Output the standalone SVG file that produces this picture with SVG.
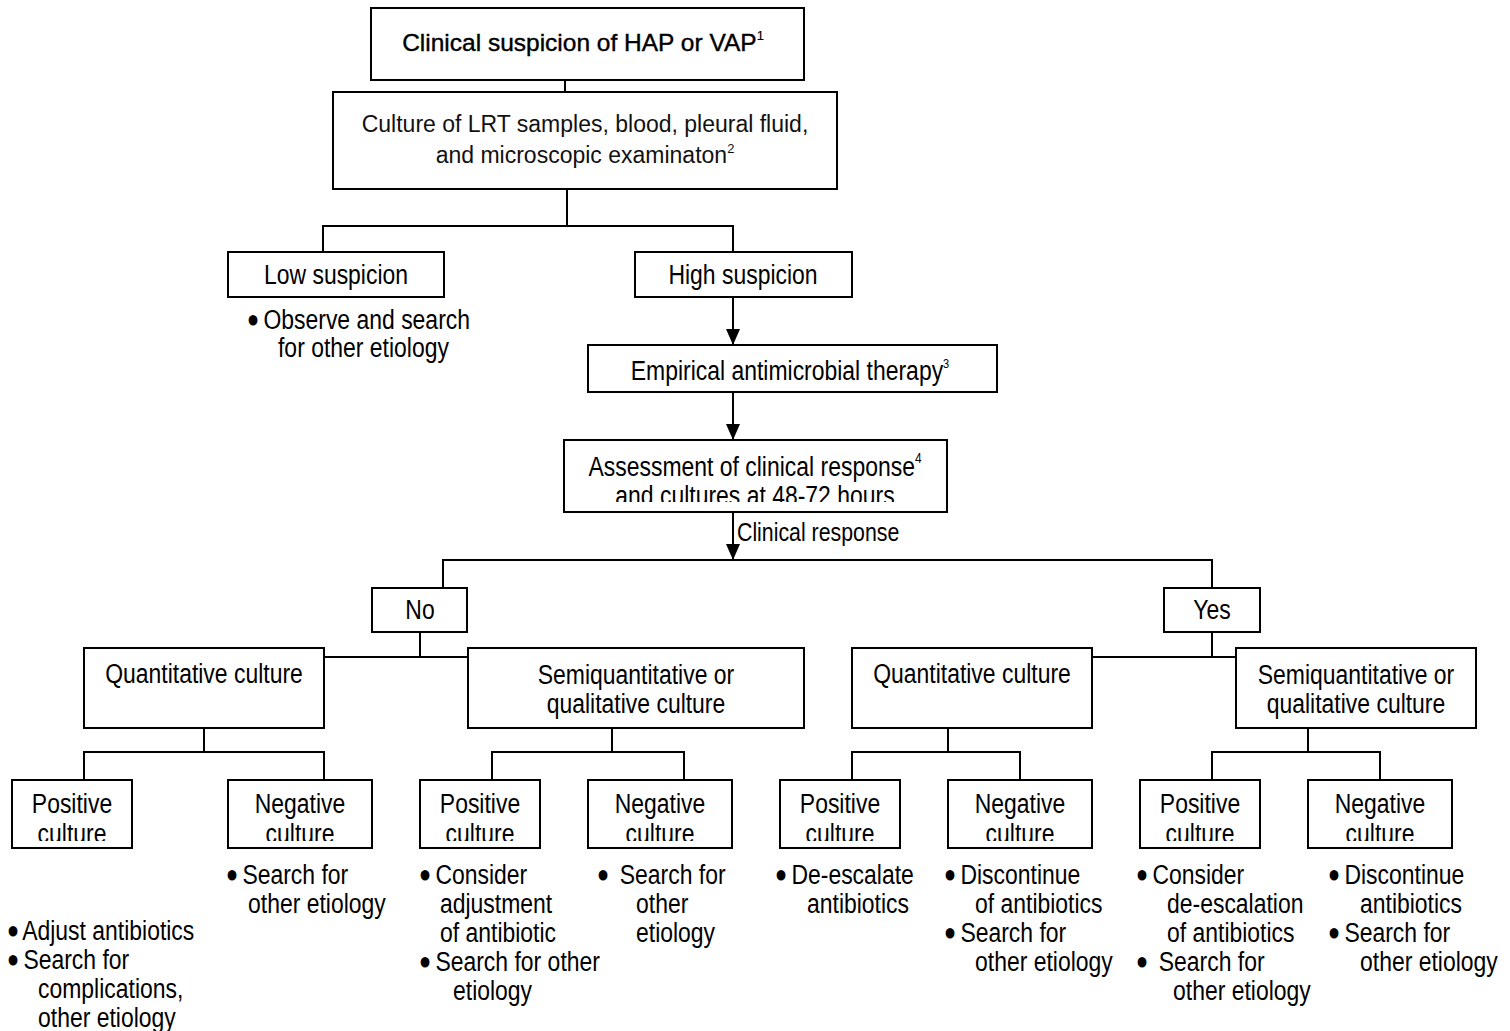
<svg xmlns="http://www.w3.org/2000/svg" width="1510" height="1031" viewBox="0 0 1510 1031">
<style>
.box{fill:#fff;stroke:#000;stroke-width:2}
.t{font-family:'Liberation Sans',Arial,sans-serif;font-size:27px;fill:#000}
.c{text-anchor:middle}
.w{font-family:'Liberation Sans',Arial,sans-serif;font-size:23px;fill:#111}
.sup{font-size:13px}
.b{stroke:#000;stroke-width:3;stroke-linejoin:round}
.conn{stroke:#000;stroke-width:2;fill:none}
</style>
<defs>
<marker id="ah" markerUnits="userSpaceOnUse" markerWidth="16" markerHeight="18" refX="16" refY="8" orient="auto" viewBox="0 0 16 16">
<path d="M0,1 L16,8 L0,15 Z" fill="#000"/>
</marker>
<clipPath id="clipA"><rect x="564" y="440" width="384" height="62"/></clipPath>
<clipPath id="clipB"><rect x="0" y="780" width="1510" height="61"/></clipPath>
</defs>

<g id="connectors">
<line class="conn" x1="565" y1="80" x2="565" y2="92"/>
<polyline class="conn" points="567,189 567,226"/>
<polyline class="conn" points="323,252 323,226 733,226 733,252"/>
<line class="conn" x1="733" y1="297" x2="733" y2="345" marker-end="url(#ah)"/>
<line class="conn" x1="733" y1="392" x2="733" y2="440" marker-end="url(#ah)"/>
<line class="conn" x1="733" y1="512" x2="733" y2="560" marker-end="url(#ah)"/>
<polyline class="conn" points="443,588 443,560 1212,560 1212,588"/>
<line class="conn" x1="420" y1="632" x2="420" y2="657"/>
<line class="conn" x1="324" y1="657" x2="468" y2="657"/>
<line class="conn" x1="1212" y1="632" x2="1212" y2="657"/>
<line class="conn" x1="1092" y1="657" x2="1236" y2="657"/>
<line class="conn" x1="204" y1="728" x2="204" y2="752"/>
<polyline class="conn" points="84,780 84,752 324,752 324,780"/>
<line class="conn" x1="612" y1="728" x2="612" y2="752"/>
<polyline class="conn" points="492,780 492,752 684,752 684,780"/>
<line class="conn" x1="948" y1="728" x2="948" y2="752"/>
<polyline class="conn" points="852,780 852,752 1020,752 1020,780"/>
<line class="conn" x1="1308" y1="728" x2="1308" y2="752"/>
<polyline class="conn" points="1212,780 1212,752 1380,752 1380,780"/>
<text class="t" transform="translate(737 541) scale(.82 1)" style="font-size:26px">Clinical response</text>
</g>

<g id="n-clinical">
<rect class="box" x="371" y="8" width="433" height="72"/>
<text class="w c" x="583" y="51" style="font-size:24.5px;fill:#000;stroke:#000;stroke-width:0.4">Clinical suspicion of HAP or VAP<tspan class="sup" dy="-11" style="stroke-width:0.2">1</tspan></text>
</g>
<g id="n-culture">
<rect class="box" x="333" y="92" width="504" height="97"/>
<text class="w c" x="585" y="132">Culture of LRT samples, blood, pleural fluid,</text>
<text class="w c" x="585" y="163">and microscopic examinaton<tspan class="sup" dy="-10">2</tspan></text>
</g>
<g id="n-low">
<rect class="box" x="228" y="252" width="216" height="45"/>
<text class="t c" transform="translate(336 284) scale(.85 1)">Low suspicion</text>
<text class="t" transform="translate(249 329) scale(.85 1)"><tspan class="b">•</tspan> Observe and search</text>
<text class="t" transform="translate(278 357) scale(.85 1)">for other etiology</text>
</g>
<g id="n-high">
<rect class="box" x="635" y="252" width="217" height="45"/>
<text class="t c" transform="translate(743 284) scale(.85 1)">High suspicion</text>
</g>
<g id="n-empirical">
<rect class="box" x="588" y="345" width="409" height="47"/>
<text class="t c" transform="translate(790 380) scale(.85 1)">Empirical antimicrobial therapy<tspan class="sup" dy="-12">3</tspan></text>
</g>
<g id="n-assess">
<rect class="box" x="564" y="440" width="383" height="72"/>
<text class="t c" transform="translate(755 476) scale(.85 1)">Assessment of clinical response<tspan class="sup" dy="-13" style="font-size:14px">4</tspan></text>
<g clip-path="url(#clipA)"><text class="t c" transform="translate(755 505) scale(.85 1)">and cultures at 48-72 hours</text></g>
</g>
<g id="n-no">
<rect class="box" x="372" y="588" width="95" height="44"/>
<text class="t c" transform="translate(420 619) scale(.85 1)">No</text>
</g>
<g id="n-yes">
<rect class="box" x="1164" y="588" width="96" height="44"/>
<text class="t c" transform="translate(1212 619) scale(.85 1)">Yes</text>
</g>
<g id="n-quant-l">
<rect class="box" x="84" y="648" width="240" height="80"/>
<text class="t c" transform="translate(204 683) scale(.85 1)">Quantitative culture</text>
</g>
<g id="n-semi-l">
<rect class="box" x="468" y="648" width="336" height="80"/>
<text class="t c" transform="translate(636 684) scale(.85 1)">Semiquantitative or</text>
<text class="t c" transform="translate(636 713) scale(.85 1)">qualitative culture</text>
</g>
<g id="n-quant-r">
<rect class="box" x="852" y="648" width="240" height="80"/>
<text class="t c" transform="translate(972 683) scale(.85 1)">Quantitative culture</text>
</g>
<g id="n-semi-r">
<rect class="box" x="1236" y="648" width="240" height="80"/>
<text class="t c" transform="translate(1356 684) scale(.85 1)">Semiquantitative or</text>
<text class="t c" transform="translate(1356 713) scale(.85 1)">qualitative culture</text>
</g>

<g id="n-pos-1">
<rect class="box" x="12" y="780" width="120" height="68"/>
<text class="t c" transform="translate(72 813) scale(.85 1)">Positive</text>
<g clip-path="url(#clipB)"><text class="t c" transform="translate(72 843) scale(.85 1)">culture</text></g>
<text class="t" transform="translate(9 940) scale(.85 1)"><tspan class="b">•</tspan> Adjust antibiotics</text>
<text class="t" transform="translate(9 969) scale(.85 1)"><tspan class="b">•</tspan> Search for</text>
<text class="t" transform="translate(38 998) scale(.85 1)">complications,</text>
<text class="t" transform="translate(38 1027) scale(.85 1)">other etiology</text>
</g>
<g id="n-neg-1">
<rect class="box" x="228" y="780" width="144" height="68"/>
<text class="t c" transform="translate(300 813) scale(.85 1)">Negative</text>
<g clip-path="url(#clipB)"><text class="t c" transform="translate(300 843) scale(.85 1)">culture</text></g>
<text class="t" transform="translate(228 884) scale(.85 1)"><tspan class="b">•</tspan> Search for</text>
<text class="t" transform="translate(248 913) scale(.85 1)">other etiology</text>
</g>
<g id="n-pos-2">
<rect class="box" x="420" y="780" width="120" height="68"/>
<text class="t c" transform="translate(480 813) scale(.85 1)">Positive</text>
<g clip-path="url(#clipB)"><text class="t c" transform="translate(480 843) scale(.85 1)">culture</text></g>
<text class="t" transform="translate(421 884) scale(.85 1)"><tspan class="b">•</tspan> Consider</text>
<text class="t" transform="translate(440 913) scale(.85 1)">adjustment</text>
<text class="t" transform="translate(440 942) scale(.85 1)">of antibiotic</text>
<text class="t" transform="translate(421 971) scale(.85 1)"><tspan class="b">•</tspan> Search for other</text>
<text class="t" transform="translate(453 1000) scale(.85 1)">etiology</text>
</g>
<g id="n-neg-2">
<rect class="box" x="588" y="780" width="144" height="68"/>
<text class="t c" transform="translate(660 813) scale(.85 1)">Negative</text>
<g clip-path="url(#clipB)"><text class="t c" transform="translate(660 843) scale(.85 1)">culture</text></g>
<text class="t" transform="translate(599 884) scale(.85 1)" xml:space="preserve"><tspan class="b">•</tspan>  Search for</text>
<text class="t" transform="translate(636 913) scale(.85 1)">other</text>
<text class="t" transform="translate(636 942) scale(.85 1)">etiology</text>
</g>
<g id="n-pos-3">
<rect class="box" x="780" y="780" width="120" height="68"/>
<text class="t c" transform="translate(840 813) scale(.85 1)">Positive</text>
<g clip-path="url(#clipB)"><text class="t c" transform="translate(840 843) scale(.85 1)">culture</text></g>
<text class="t" transform="translate(777 884) scale(.85 1)"><tspan class="b">•</tspan> De-escalate</text>
<text class="t" transform="translate(807 913) scale(.85 1)">antibiotics</text>
</g>
<g id="n-neg-3">
<rect class="box" x="948" y="780" width="144" height="68"/>
<text class="t c" transform="translate(1020 813) scale(.85 1)">Negative</text>
<g clip-path="url(#clipB)"><text class="t c" transform="translate(1020 843) scale(.85 1)">culture</text></g>
<text class="t" transform="translate(946 884) scale(.85 1)"><tspan class="b">•</tspan> Discontinue</text>
<text class="t" transform="translate(975 913) scale(.85 1)">of antibiotics</text>
<text class="t" transform="translate(946 942) scale(.85 1)"><tspan class="b">•</tspan> Search for</text>
<text class="t" transform="translate(975 971) scale(.85 1)">other etiology</text>
</g>
<g id="n-pos-4">
<rect class="box" x="1140" y="780" width="120" height="68"/>
<text class="t c" transform="translate(1200 813) scale(.85 1)">Positive</text>
<g clip-path="url(#clipB)"><text class="t c" transform="translate(1200 843) scale(.85 1)">culture</text></g>
<text class="t" transform="translate(1138 884) scale(.85 1)"><tspan class="b">•</tspan> Consider</text>
<text class="t" transform="translate(1167 913) scale(.85 1)">de-escalation</text>
<text class="t" transform="translate(1167 942) scale(.85 1)">of antibiotics</text>
<text class="t" transform="translate(1138 971) scale(.85 1)" xml:space="preserve"><tspan class="b">•</tspan>  Search for</text>
<text class="t" transform="translate(1173 1000) scale(.85 1)">other etiology</text>
</g>
<g id="n-neg-4">
<rect class="box" x="1308" y="780" width="144" height="68"/>
<text class="t c" transform="translate(1380 813) scale(.85 1)">Negative</text>
<g clip-path="url(#clipB)"><text class="t c" transform="translate(1380 843) scale(.85 1)">culture</text></g>
<text class="t" transform="translate(1330 884) scale(.85 1)"><tspan class="b">•</tspan> Discontinue</text>
<text class="t" transform="translate(1360 913) scale(.85 1)">antibiotics</text>
<text class="t" transform="translate(1330 942) scale(.85 1)"><tspan class="b">•</tspan> Search for</text>
<text class="t" transform="translate(1360 971) scale(.85 1)">other etiology</text>
</g>
</svg>
